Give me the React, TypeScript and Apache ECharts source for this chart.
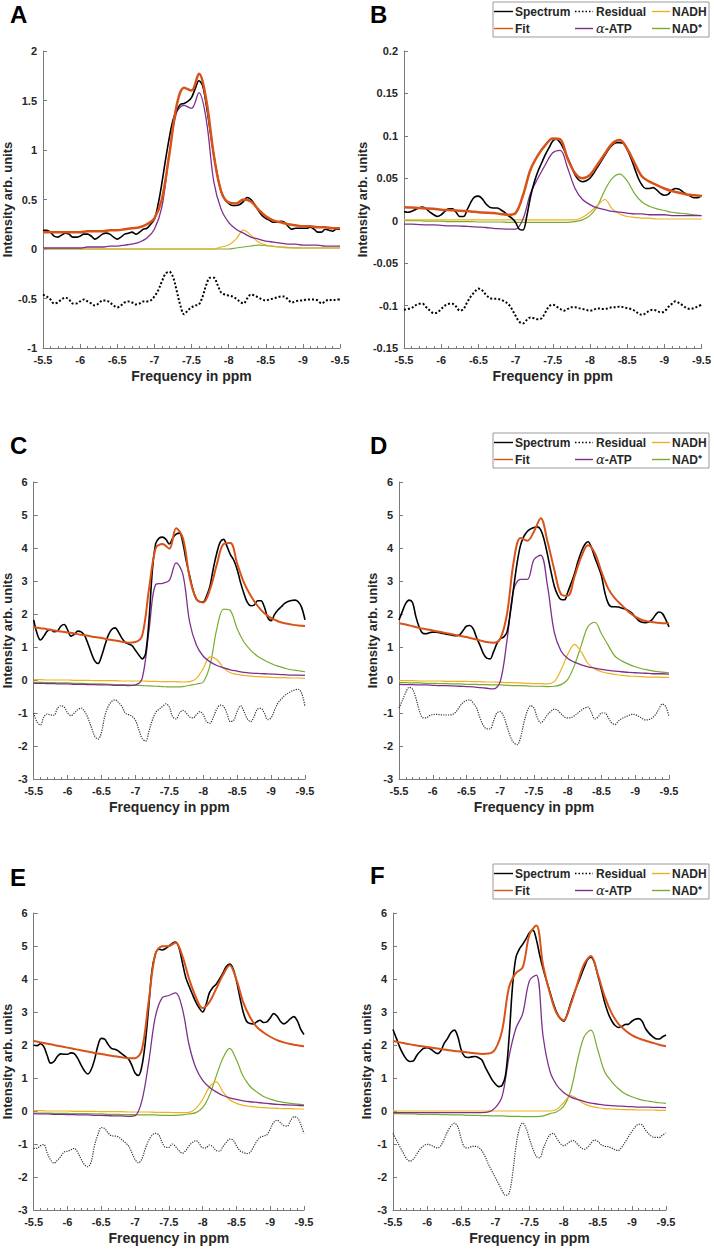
import React, { useEffect, useRef } from 'react';
import * as echarts from 'echarts';

// ---------- x grids (ppm) ----------
const X_COARSE = [-5.5,-5.6,-5.7,-5.8,-5.9,-6,-6.1,-6.2,-6.3,-6.4,-6.5,-6.6,-6.7,-6.8,-6.9,-7,-7.1,-7.2,-7.3,-7.4,-7.5,-7.6,-7.7,-7.8,-7.9,-8,-8.1,-8.2,-8.3,-8.4,-8.5,-8.6,-8.7,-8.8,-8.9,-9,-9.1,-9.2,-9.3,-9.4,-9.5];
const X_FINE = [-5.5,-5.55,-5.6,-5.65,-5.7,-5.75,-5.8,-5.85,-5.9,-5.95,-6,-6.05,-6.1,-6.15,-6.2,-6.25,-6.3,-6.35,-6.4,-6.45,-6.5,-6.55,-6.6,-6.65,-6.7,-6.75,-6.8,-6.85,-6.9,-6.95,-7,-7.05,-7.1,-7.15,-7.2,-7.25,-7.3,-7.35,-7.4,-7.45,-7.5,-7.55,-7.6,-7.65,-7.7,-7.75,-7.8,-7.85,-7.9,-7.95,-8,-8.05,-8.1,-8.15,-8.2,-8.25,-8.3,-8.35,-8.4,-8.45,-8.5,-8.55,-8.6,-8.65,-8.7,-8.75,-8.8,-8.85,-8.9,-8.95,-9,-9.05,-9.1,-9.15,-9.2,-9.25,-9.3,-9.35,-9.4,-9.45,-9.5];

// ---------- legend labels ----------
const LEGEND_ROW1 = ['Spectrum', 'Residual', 'NADH'];
const LEGEND_ROW2 = ['Fit', 'α-ATP', 'NAD⁺'];

// ---------- Panel A ----------
const A_SPECTRUM = [0.19,0.19,0.17,0.13,0.12,0.14,0.16,0.15,0.12,0.12,0.13,0.15,0.15,0.13,0.10,0.12,0.15,0.16,0.15,0.12,0.10,0.12,0.15,0.16,0.17,0.15,0.17,0.20,0.21,0.25,0.30,0.45,0.66,0.90,1.12,1.30,1.40,1.46,1.47,1.49,1.53,1.62,1.70,1.65,1.45,1.20,0.95,0.74,0.58,0.50,0.46,0.44,0.44,0.45,0.48,0.52,0.50,0.45,0.39,0.34,0.31,0.29,0.27,0.27,0.28,0.27,0.23,0.20,0.21,0.21,0.21,0.21,0.22,0.20,0.17,0.17,0.20,0.19,0.18,0.20,0.20];
const A_RESIDUAL = [-0.46,-0.48,-0.51,-0.55,-0.54,-0.51,-0.49,-0.51,-0.55,-0.55,-0.53,-0.51,-0.53,-0.55,-0.57,-0.55,-0.52,-0.52,-0.54,-0.57,-0.59,-0.57,-0.54,-0.53,-0.54,-0.56,-0.55,-0.53,-0.53,-0.52,-0.48,-0.42,-0.33,-0.25,-0.23,-0.28,-0.42,-0.57,-0.66,-0.62,-0.59,-0.57,-0.56,-0.48,-0.36,-0.29,-0.29,-0.36,-0.44,-0.46,-0.47,-0.48,-0.50,-0.53,-0.55,-0.50,-0.46,-0.47,-0.49,-0.51,-0.52,-0.51,-0.50,-0.49,-0.48,-0.48,-0.51,-0.54,-0.53,-0.52,-0.52,-0.51,-0.51,-0.51,-0.52,-0.55,-0.53,-0.51,-0.52,-0.51,-0.51];
const A_FIT = [0.17,0.17,0.17,0.17,0.17,0.17,0.18,0.18,0.18,0.19,0.19,0.20,0.21,0.22,0.25,0.31,0.50,0.95,1.45,1.63,1.60,1.77,1.50,0.95,0.58,0.47,0.46,0.50,0.48,0.40,0.33,0.29,0.27,0.25,0.24,0.23,0.23,0.22,0.22,0.21,0.21];
const A_ATP = [0.01,0.01,0.01,0.01,0.01,0.01,0.02,0.02,0.02,0.03,0.03,0.04,0.05,0.07,0.11,0.20,0.42,0.95,1.38,1.45,1.42,1.58,1.30,0.68,0.40,0.27,0.20,0.16,0.12,0.10,0.08,0.07,0.06,0.05,0.05,0.04,0.04,0.04,0.03,0.03,0.03];
const A_NADH = [0,0,0,0,0,0,0,0,0,0,0,0,0,0,0,0,0,0,0,0,0,0,0,0,0.02,0.04,0.10,0.19,0.14,0.07,0.04,0.03,0.02,0.01,0.01,0.01,0.01,0.01,0.01,0.01,0.01];
const A_NAD = [0,0,0,0,0,0,0,0,0,0,0,0,0,0,0,0,0,0,0,0,0,0,0,0,0,0,0.01,0.02,0.03,0.04,0.035,0.025,0.02,0.015,0.012,0.01,0.01,0.01,0.01,0.01,0.01];

// ---------- Panel B ----------
const B_SPECTRUM = [0.011,0.010,0.011,0.013,0.015,0.016,0.014,0.010,0.007,0.005,0.007,0.011,0.014,0.014,0.010,0.005,0.005,0.013,0.022,0.028,0.029,0.026,0.020,0.016,0.015,0.015,0.013,0.010,0.006,0.003,-0.002,-0.010,-0.011,0.005,0.028,0.045,0.058,0.068,0.078,0.086,0.094,0.096,0.092,0.084,0.074,0.064,0.054,0.048,0.046,0.047,0.050,0.056,0.063,0.070,0.077,0.084,0.089,0.092,0.092,0.091,0.084,0.074,0.062,0.050,0.042,0.038,0.038,0.039,0.036,0.032,0.030,0.031,0.036,0.038,0.037,0.034,0.031,0.029,0.027,0.027,0.030];
const B_RESIDUAL = [-0.105,-0.104,-0.103,-0.100,-0.098,-0.098,-0.102,-0.106,-0.109,-0.108,-0.104,-0.100,-0.098,-0.098,-0.101,-0.106,-0.104,-0.096,-0.089,-0.084,-0.080,-0.082,-0.087,-0.091,-0.092,-0.092,-0.093,-0.095,-0.098,-0.104,-0.112,-0.119,-0.121,-0.117,-0.114,-0.115,-0.116,-0.115,-0.108,-0.101,-0.099,-0.101,-0.104,-0.106,-0.104,-0.102,-0.102,-0.103,-0.104,-0.105,-0.106,-0.105,-0.103,-0.104,-0.104,-0.103,-0.102,-0.102,-0.101,-0.102,-0.103,-0.104,-0.106,-0.109,-0.111,-0.109,-0.106,-0.105,-0.106,-0.108,-0.107,-0.102,-0.098,-0.095,-0.097,-0.100,-0.103,-0.104,-0.103,-0.101,-0.099];
const B_FIT = [0.016,0.0155,0.015,0.0145,0.014,0.013,0.0125,0.012,0.0115,0.011,0.010,0.0095,0.009,0.008,0.007,0.009,0.030,0.060,0.077,0.089,0.097,0.096,0.073,0.056,0.050,0.054,0.066,0.079,0.091,0.095,0.085,0.068,0.052,0.046,0.042,0.038,0.035,0.033,0.031,0.030,0.029];
const B_ATP = [-0.004,-0.004,-0.0045,-0.005,-0.005,-0.0055,-0.006,-0.006,-0.0065,-0.007,-0.0075,-0.008,-0.009,-0.0095,-0.010,-0.010,0.002,0.032,0.050,0.066,0.080,0.083,0.062,0.038,0.025,0.019,0.015,0.013,0.011,0.010,0.009,0.008,0.008,0.007,0.007,0.007,0.006,0.006,0.006,0.006,0.006];
const B_NADH = [0.001,0.001,0.001,0.001,0.001,0.001,0.001,0.001,0.001,0.001,0.001,0.001,0.001,0.001,0.001,0.001,0.001,0.001,0.001,0.001,0.001,0.001,0.001,0.001,0.004,0.010,0.018,0.025,0.014,0.008,0.005,0.004,0.003,0.003,0.002,0.002,0.002,0.002,0.002,0.002,0.002];
const B_NAD = [0,0,0,-0.0005,-0.0005,-0.0005,-0.001,-0.001,-0.001,-0.001,-0.0015,-0.0015,-0.0015,-0.0015,-0.002,-0.002,-0.002,-0.002,-0.002,-0.002,-0.002,-0.002,-0.002,-0.001,0.001,0.006,0.017,0.036,0.050,0.055,0.047,0.032,0.022,0.017,0.014,0.012,0.010,0.009,0.008,0.007,0.006];

// ---------- Panel C ----------
const C_SPECTRUM = [1.82,1.41,1.21,1.33,1.48,1.53,1.46,1.48,1.63,1.68,1.52,1.33,1.38,1.48,1.46,1.35,1.10,0.82,0.58,0.50,0.72,1.05,1.36,1.53,1.58,1.45,1.27,1.14,1.09,1.04,0.90,0.76,0.64,0.80,1.82,3.33,4.14,4.30,4.33,4.26,4.12,4.30,4.42,4.45,4.15,3.60,3.15,2.72,2.45,2.37,2.37,2.55,2.85,3.40,3.85,4.18,4.26,4.05,3.80,3.63,3.35,2.95,2.62,2.35,2.25,2.27,2.40,2.40,2.22,1.90,1.80,1.98,2.12,2.22,2.32,2.38,2.41,2.42,2.37,2.20,1.82];
const C_RESIDUAL = [-1.00,-1.28,-1.36,-1.12,-1.03,-1.06,-1.07,-0.86,-0.78,-0.82,-1.00,-1.08,-1.00,-0.90,-0.85,-0.95,-1.15,-1.43,-1.70,-1.79,-1.58,-1.08,-0.80,-0.65,-0.60,-0.68,-0.80,-1.00,-1.05,-1.10,-1.22,-1.50,-1.78,-1.85,-1.55,-1.21,-0.98,-0.88,-0.80,-0.72,-0.82,-1.12,-1.18,-1.00,-0.92,-1.00,-1.12,-1.15,-1.05,-0.96,-1.05,-1.27,-1.31,-1.12,-0.88,-0.76,-0.80,-1.02,-1.26,-1.22,-0.95,-0.78,-0.95,-1.18,-1.26,-1.10,-0.88,-0.86,-1.00,-1.20,-1.15,-0.92,-0.70,-0.58,-0.47,-0.40,-0.34,-0.30,-0.28,-0.40,-0.80];
const C_FIT = [1.60,1.57,1.54,1.50,1.47,1.44,1.41,1.37,1.34,1.30,1.27,1.23,1.20,1.16,1.13,1.15,1.35,2.75,4.00,4.12,3.98,4.60,4.30,3.10,2.45,2.35,2.75,3.50,4.12,4.15,3.53,2.95,2.55,2.25,2.02,1.88,1.78,1.72,1.68,1.65,1.64];
const C_ATP = [-0.10,-0.10,-0.11,-0.11,-0.12,-0.12,-0.13,-0.13,-0.14,-0.14,-0.15,-0.15,-0.16,-0.16,-0.17,-0.15,0.05,1.50,2.90,2.93,3.02,3.55,3.20,1.75,1.05,0.72,0.55,0.44,0.37,0.31,0.27,0.23,0.21,0.20,0.19,0.18,0.17,0.16,0.15,0.15,0.14];
const C_NADH = [0.01,0.01,0,0,0,0,-0.01,-0.01,-0.01,-0.02,-0.02,-0.02,-0.02,-0.03,-0.03,-0.03,-0.03,-0.04,-0.04,-0.05,-0.05,-0.05,-0.06,-0.05,0.05,0.35,0.70,0.62,0.36,0.22,0.17,0.14,0.12,0.10,0.09,0.08,0.07,0.07,0.06,0.06,0.05];
const C_NAD = [-0.07,-0.07,-0.08,-0.08,-0.09,-0.09,-0.10,-0.10,-0.11,-0.12,-0.12,-0.13,-0.14,-0.14,-0.15,-0.16,-0.17,-0.18,-0.19,-0.20,-0.21,-0.21,-0.20,-0.16,-0.12,-0.06,0.45,1.55,2.15,2.10,1.55,1.15,0.90,0.72,0.60,0.50,0.42,0.36,0.31,0.28,0.25];

// ---------- Panel D ----------
const D_SPECTRUM = [1.82,2.08,2.32,2.42,2.35,1.92,1.60,1.42,1.40,1.43,1.45,1.45,1.43,1.41,1.39,1.37,1.35,1.34,1.37,1.50,1.63,1.65,1.55,1.28,1.05,0.80,0.66,0.64,0.85,1.10,1.25,1.30,1.45,2.05,2.82,3.55,4.08,4.35,4.50,4.58,4.62,4.64,4.55,4.25,3.80,3.30,2.85,2.58,2.44,2.43,2.66,2.93,3.22,3.58,3.88,4.10,4.19,4.02,3.72,3.45,3.15,2.65,2.32,2.22,2.22,2.21,2.18,2.15,2.10,2.03,1.91,1.80,1.75,1.74,1.76,1.83,1.97,2.06,2.02,1.84,1.61];
const D_RESIDUAL = [-0.85,-0.62,-0.38,-0.22,-0.28,-0.55,-0.92,-1.14,-1.15,-1.08,-1.05,-1.04,-1.05,-1.06,-1.06,-1.06,-1.04,-0.95,-0.80,-0.68,-0.62,-0.60,-0.70,-0.85,-1.15,-1.38,-1.48,-1.48,-1.25,-1.00,-0.96,-1.10,-1.40,-1.72,-1.90,-1.96,-1.75,-1.30,-0.95,-0.78,-0.85,-1.15,-1.30,-1.20,-1.05,-0.95,-0.88,-0.92,-1.02,-1.12,-1.15,-1.14,-1.08,-1.00,-0.92,-0.85,-0.82,-0.98,-1.18,-1.12,-1.00,-1.00,-1.14,-1.30,-1.35,-1.25,-1.17,-1.12,-1.08,-1.04,-1.05,-1.10,-1.16,-1.21,-1.20,-1.15,-1.05,-0.88,-0.73,-0.80,-1.11];
const D_FIT = [1.72,1.68,1.63,1.58,1.54,1.50,1.46,1.42,1.38,1.34,1.30,1.25,1.20,1.15,1.13,1.25,2.00,3.60,4.30,4.22,4.50,4.90,4.20,3.35,2.60,2.55,3.13,3.73,4.08,3.85,3.28,2.77,2.47,2.27,2.07,1.92,1.82,1.77,1.74,1.72,1.72];
const D_ATP = [-0.13,-0.14,-0.14,-0.15,-0.15,-0.16,-0.17,-0.17,-0.18,-0.19,-0.20,-0.21,-0.23,-0.25,-0.27,-0.05,1.20,2.75,3.05,3.05,3.65,3.78,2.85,1.45,0.88,0.65,0.54,0.46,0.40,0.36,0.32,0.29,0.27,0.25,0.23,0.22,0.21,0.20,0.19,0.19,0.18];
const D_NADH = [-0.02,-0.02,-0.02,-0.03,-0.03,-0.03,-0.03,-0.04,-0.04,-0.04,-0.04,-0.05,-0.05,-0.06,-0.06,-0.07,-0.08,-0.08,-0.09,-0.10,-0.11,-0.11,-0.12,-0.05,0.30,0.78,1.08,0.85,0.50,0.33,0.25,0.20,0.17,0.14,0.12,0.11,0.10,0.09,0.09,0.08,0.08];
const D_NAD = [-0.08,-0.08,-0.09,-0.09,-0.10,-0.10,-0.11,-0.11,-0.12,-0.12,-0.13,-0.13,-0.14,-0.14,-0.15,-0.15,-0.16,-0.17,-0.17,-0.18,-0.19,-0.19,-0.20,-0.19,-0.14,0.02,0.45,1.05,1.62,1.75,1.40,1.05,0.72,0.58,0.48,0.40,0.34,0.30,0.26,0.24,0.22];

// ---------- Panel E ----------
const E_SPECTRUM = [1.99,1.98,2.04,1.95,1.68,1.45,1.50,1.65,1.73,1.72,1.72,1.76,1.74,1.60,1.40,1.22,1.12,1.25,1.55,1.98,2.20,2.18,2.02,1.90,1.87,1.82,1.74,1.66,1.58,1.40,1.15,1.08,1.35,2.05,3.10,4.25,4.75,4.90,4.88,4.92,5.00,5.08,5.12,4.95,4.50,4.05,3.78,3.53,3.30,3.12,3.00,3.22,3.58,3.74,3.84,4.00,4.18,4.38,4.45,4.32,3.95,3.46,3.00,2.72,2.65,2.64,2.70,2.75,2.68,2.70,2.82,2.95,2.88,2.72,2.64,2.70,2.80,2.86,2.74,2.48,2.32];
const E_RESIDUAL = [-1.13,-1.13,-1.05,-1.02,-1.27,-1.48,-1.58,-1.50,-1.38,-1.24,-1.22,-1.18,-1.13,-1.25,-1.45,-1.62,-1.69,-1.55,-1.05,-0.72,-0.50,-0.53,-0.66,-0.75,-0.76,-0.78,-0.86,-0.95,-1.05,-1.25,-1.47,-1.57,-1.46,-1.15,-0.90,-0.74,-0.68,-0.72,-0.95,-1.10,-1.10,-1.00,-1.08,-1.20,-1.28,-1.20,-1.05,-0.95,-0.90,-0.98,-1.12,-1.12,-1.03,-1.08,-1.20,-1.22,-1.08,-0.95,-0.85,-0.88,-1.05,-1.20,-1.25,-1.29,-1.26,-1.10,-0.92,-0.80,-0.76,-0.72,-0.55,-0.35,-0.28,-0.35,-0.44,-0.46,-0.30,-0.18,-0.20,-0.40,-0.68];
const E_FIT = [2.12,2.08,2.04,2.00,1.96,1.92,1.88,1.84,1.80,1.76,1.73,1.69,1.66,1.63,1.60,1.60,1.85,3.30,4.75,4.99,5.00,5.10,4.70,4.00,3.45,3.12,3.30,3.70,4.12,4.42,3.98,3.30,2.85,2.55,2.38,2.25,2.15,2.08,2.03,1.99,1.96];
const E_ATP = [-0.08,-0.09,-0.09,-0.10,-0.10,-0.11,-0.11,-0.12,-0.12,-0.13,-0.13,-0.14,-0.15,-0.15,-0.16,-0.14,0.30,1.45,2.85,3.43,3.50,3.58,3.10,2.00,1.30,0.93,0.72,0.58,0.47,0.40,0.35,0.31,0.28,0.26,0.24,0.22,0.20,0.19,0.18,0.17,0.16];
const E_NADH = [0.01,0.01,0,0,0,0,-0.01,-0.01,-0.01,-0.01,-0.02,-0.02,-0.02,-0.02,-0.03,-0.03,-0.03,-0.03,-0.04,-0.04,-0.04,-0.05,-0.05,-0.04,0.08,0.35,0.72,0.88,0.58,0.34,0.23,0.17,0.14,0.12,0.10,0.09,0.08,0.07,0.07,0.06,0.06];
const E_NAD = [-0.06,-0.06,-0.06,-0.07,-0.07,-0.07,-0.08,-0.08,-0.08,-0.09,-0.09,-0.10,-0.10,-0.11,-0.11,-0.11,-0.12,-0.12,-0.12,-0.13,-0.13,-0.13,-0.12,-0.09,-0.05,0.10,0.47,1.05,1.60,1.90,1.55,1.05,0.75,0.58,0.44,0.36,0.30,0.26,0.23,0.21,0.19];

// ---------- Panel F ----------
const F_SPECTRUM = [2.47,2.20,1.93,1.72,1.56,1.50,1.52,1.69,1.81,1.90,1.92,1.88,1.80,1.74,1.82,2.05,2.20,2.38,2.45,2.25,1.85,1.65,1.62,1.64,1.65,1.62,1.55,1.34,1.14,0.95,0.82,0.74,0.78,1.10,2.20,3.75,4.65,4.90,5.05,5.22,5.40,5.48,5.20,4.72,4.30,3.95,3.60,3.26,2.98,2.80,2.72,2.92,3.25,3.55,3.82,4.08,4.35,4.58,4.66,4.50,4.12,3.72,3.30,2.98,2.75,2.60,2.53,2.56,2.62,2.63,2.72,2.78,2.80,2.72,2.50,2.36,2.26,2.19,2.18,2.25,2.30];
const F_RESIDUAL = [-0.68,-0.88,-1.08,-1.27,-1.45,-1.52,-1.45,-1.30,-1.15,-1.05,-1.01,-1.03,-1.08,-1.12,-1.05,-0.85,-0.62,-0.45,-0.37,-0.48,-0.85,-1.10,-1.12,-1.08,-1.07,-1.10,-1.20,-1.38,-1.62,-1.82,-2.02,-2.22,-2.42,-2.56,-2.50,-1.95,-1.10,-0.55,-0.36,-0.52,-0.85,-1.15,-1.38,-1.42,-1.15,-0.90,-0.72,-0.68,-0.83,-0.98,-1.05,-1.00,-0.92,-0.90,-1.00,-1.10,-1.16,-1.10,-0.98,-0.88,-0.92,-1.02,-1.07,-1.08,-1.12,-1.17,-1.20,-1.10,-0.95,-0.78,-0.62,-0.48,-0.40,-0.42,-0.58,-0.70,-0.78,-0.80,-0.80,-0.73,-0.66];
const F_FIT = [2.12,2.08,2.04,2.00,1.97,1.94,1.91,1.88,1.85,1.82,1.80,1.77,1.75,1.73,1.74,1.88,2.45,3.75,4.18,4.35,5.35,5.62,4.40,3.56,2.95,2.75,3.20,3.85,4.45,4.70,4.15,3.48,2.98,2.65,2.45,2.30,2.20,2.13,2.07,2.01,1.96];
const F_ATP = [-0.05,-0.05,-0.05,-0.05,-0.05,-0.05,-0.05,-0.05,-0.05,-0.05,-0.05,-0.05,-0.05,-0.05,-0.03,0.10,0.45,1.65,2.50,2.95,3.95,4.12,2.25,1.20,0.78,0.56,0.43,0.35,0.29,0.24,0.21,0.18,0.16,0.15,0.14,0.13,0.12,0.12,0.11,0.11,0.10];
const F_NADH = [0,0,0,0,0,0,0,0,0,0,0,0,0,0,0,0,0,0,0,0,0,0,0,0,0.05,0.25,0.47,0.36,0.22,0.14,0.10,0.07,0.06,0.05,0.04,0.04,0.03,0.03,0.03,0.02,0.02];
const F_NAD = [-0.08,-0.08,-0.09,-0.09,-0.10,-0.10,-0.10,-0.11,-0.11,-0.12,-0.12,-0.13,-0.13,-0.14,-0.14,-0.15,-0.15,-0.16,-0.16,-0.17,-0.17,-0.17,-0.15,-0.08,-0.02,0.14,0.58,1.50,2.25,2.45,1.85,1.20,0.90,0.68,0.52,0.43,0.36,0.31,0.28,0.25,0.23];

// ---------- styling / layout ----------
const FONT = '"Liberation Sans", Arial, Helvetica, sans-serif';
const TEXT = '#262626';
const AXIS_GRAY = '#7a7a7a';
const COLORS: Record<string, string> = {
  Spectrum: '#000000', Residual: '#000000', Fit: '#D95319',
  'α-ATP': '#7E2F8E', NADH: '#EDB120', 'NAD⁺': '#77AC30',
};

const PANELS = [
  { letter: 'A', lx: 10, ly: 2, spectrum: A_SPECTRUM, residual: A_RESIDUAL, fit: A_FIT, atp: A_ATP, nadh: A_NADH, nad: A_NAD, yMin: -1, yMax: 2, yStep: 0.5, grid: { left: 42, top: 51, width: 298, height: 297 }, yGap: 29, legendTop: null, heavy: true },
  { letter: 'B', lx: 370, ly: 2, spectrum: B_SPECTRUM, residual: B_RESIDUAL, fit: B_FIT, atp: B_ATP, nadh: B_NADH, nad: B_NAD, yMin: -0.15, yMax: 0.2, yStep: 0.05, grid: { left: 404, top: 51, width: 299, height: 297 }, yGap: 35, legendTop: 2, heavy: true },
  { letter: 'C', lx: 10, ly: 433, spectrum: C_SPECTRUM, residual: C_RESIDUAL, fit: C_FIT, atp: C_ATP, nadh: C_NADH, nad: C_NAD, yMin: -3, yMax: 6, yStep: 1, grid: { left: 33, top: 482, width: 272, height: 297 }, yGap: 19, legendTop: null, heavy: false },
  { letter: 'D', lx: 370, ly: 433, spectrum: D_SPECTRUM, residual: D_RESIDUAL, fit: D_FIT, atp: D_ATP, nadh: D_NADH, nad: D_NAD, yMin: -3, yMax: 6, yStep: 1, grid: { left: 399, top: 482, width: 270, height: 297 }, yGap: 19, legendTop: 433, heavy: false },
  { letter: 'E', lx: 10, ly: 865, spectrum: E_SPECTRUM, residual: E_RESIDUAL, fit: E_FIT, atp: E_ATP, nadh: E_NADH, nad: E_NAD, yMin: -3, yMax: 6, yStep: 1, grid: { left: 33, top: 913, width: 271, height: 297 }, yGap: 19, legendTop: null, heavy: false },
  { letter: 'F', lx: 370, ly: 863, spectrum: F_SPECTRUM, residual: F_RESIDUAL, fit: F_FIT, atp: F_ATP, nadh: F_NADH, nad: F_NAD, yMin: -3, yMax: 6, yStep: 1, grid: { left: 393, top: 913, width: 273, height: 297 }, yGap: 19, legendTop: 864, heavy: false },
];

const pair = (xs: number[], ys: number[]) => xs.map((x, i) => [x, ys[i]]);

function legendGraphics(t: number): any[] {
  const out: any[] = [];
  out.push({
    type: 'rect', shape: { x: 493, y: t, width: 216, height: 35 },
    style: { fill: '#fff', stroke: '#9a9a9a', lineWidth: 1 }, z: 50,
  });
  const cols = [{ x0: 494, x1: 513, tx: 515 }, { x0: 575, x1: 593, tx: 596 }, { x0: 652, x1: 670, tx: 672 }];
  const rows = [{ names: LEGEND_ROW1, cy: t + 9.5 }, { names: LEGEND_ROW2, cy: t + 26.5 }];
  rows.forEach((r) => {
    r.names.forEach((name, ci) => {
      const c = cols[ci];
      const dotted = name === 'Residual';
      out.push({
        type: 'line', z: 51,
        shape: { x1: c.x0, y1: r.cy, x2: c.x1, y2: r.cy },
        style: { stroke: COLORS[name], lineWidth: dotted ? 1.5 : 1.4, lineDash: dotted ? [1.5, 2] : null },
      });
      const isAtp = name === 'α-ATP';
      out.push({
        type: 'text', z: 51, x: c.tx, y: r.cy,
        style: {
          text: isAtp ? '{a|α}{b|-ATP}' : name,
          fontSize: 12, fontWeight: 'bold', fontFamily: FONT, fill: TEXT,
          verticalAlign: 'middle', align: 'left',
          rich: isAtp ? {
            a: { fontFamily: '"DejaVu Serif", "Liberation Serif", serif', fontStyle: 'italic', fontSize: 13, fill: TEXT },
            b: { fontFamily: FONT, fontWeight: 'bold', fontSize: 12, fill: TEXT },
          } : undefined,
        },
      });
    });
  });
  return out;
}

function buildOption() {
  const grid: any[] = [];
  const xAxis: any[] = [];
  const yAxis: any[] = [];
  const series: any[] = [];
  const graphic: any[] = [];

  PANELS.forEach((p, i) => {
    grid.push({ ...p.grid, containLabel: false });
    xAxis.push({
      gridIndex: i, type: 'value', min: -9.5, max: -5.5, interval: 0.5, inverse: true,
      axisLine: { show: true, onZero: false, lineStyle: { color: AXIS_GRAY, width: 1 } },
      axisTick: { show: true, inside: true, length: 4, lineStyle: { color: AXIS_GRAY } },
      minorTick: { show: true, splitNumber: 5, length: 2, lineStyle: { color: AXIS_GRAY } },
      splitLine: { show: false },
      axisLabel: { color: TEXT, fontWeight: 'bold', fontSize: 11, fontFamily: FONT, margin: 6, showMinLabel: true, showMaxLabel: true },
      name: 'Frequency in ppm', nameLocation: 'middle', nameGap: 21,
      nameTextStyle: { color: TEXT, fontWeight: 'bold', fontSize: 14, fontFamily: FONT },
    });
    yAxis.push({
      gridIndex: i, type: 'value', min: p.yMin, max: p.yMax, interval: p.yStep,
      axisLine: { show: true, onZero: false, lineStyle: { color: AXIS_GRAY, width: 1 } },
      axisTick: { show: true, inside: true, length: 4, lineStyle: { color: AXIS_GRAY } },
      splitLine: { show: false },
      axisLabel: { color: TEXT, fontWeight: 'bold', fontSize: 11, fontFamily: FONT, margin: 6 },
      name: 'Intensity arb. units', nameLocation: 'middle', nameGap: p.yGap,
      nameTextStyle: { color: TEXT, fontWeight: 'bold', fontSize: 13, fontFamily: FONT },
    });

    const defs = [
      { name: 'NAD⁺', xs: X_COARSE, ys: p.nad, width: 1.2, type: 'solid' },
      { name: 'NADH', xs: X_COARSE, ys: p.nadh, width: 1.2, type: 'solid' },
      { name: 'α-ATP', xs: X_COARSE, ys: p.atp, width: 1.3, type: 'solid' },
      { name: 'Residual', xs: X_FINE, ys: p.residual, width: p.heavy ? 2 : 1.2, type: 'dotted' },
      { name: 'Spectrum', xs: X_FINE, ys: p.spectrum, width: 1.6, type: 'solid' },
      { name: 'Fit', xs: X_COARSE, ys: p.fit, width: p.heavy ? 2.5 : 2, type: 'solid' },
    ];
    defs.forEach((d) => {
      const color = d.name === 'Residual' && !p.heavy ? '#333' : COLORS[d.name];
      series.push({
        type: 'line', name: d.name, xAxisIndex: i, yAxisIndex: i,
        data: pair(d.xs, d.ys), symbol: 'none', showSymbol: false, smooth: 0.35, silent: true,
        lineStyle: { color, width: d.width, type: d.type },
        itemStyle: { color },
      });
    });

    graphic.push({
      type: 'text', x: p.lx, y: p.ly,
      style: { text: p.letter, fontSize: 24, fontWeight: 'bold', fontFamily: FONT, fill: '#000', verticalAlign: 'top', align: 'left' },
    });

    if (p.legendTop !== null) {
      legendGraphics(p.legendTop).forEach((g) => graphic.push(g));
    }
  });

  return { animation: false, backgroundColor: '#ffffff', grid, xAxis, yAxis, series, graphic };
}

export default function App() {
  const ref = useRef<HTMLDivElement>(null);
  useEffect(() => {
    if (!ref.current) return;
    const chart = echarts.init(ref.current, undefined, { renderer: 'svg' });
    chart.setOption(buildOption() as any);
    return () => chart.dispose();
  }, []);
  return (
    <div
      ref={ref}
      style={{ position: 'absolute', left: 0, top: 0, width: 714, height: 1250, background: '#fff' }}
    />
  );
}
